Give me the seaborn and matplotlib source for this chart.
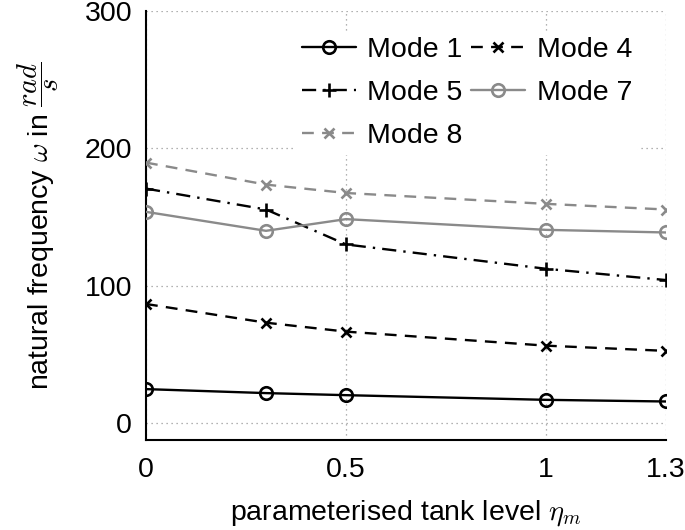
import numpy as np
import pandas as pd
import matplotlib
matplotlib.use("Agg")
import matplotlib.pyplot as plt
import seaborn as sns

# ---- data ----
eta = [0.0, 0.3, 0.5, 1.0, 1.3]
mode1 = [24.7, 21.8, 20.3, 16.9, 15.7]
mode4 = [86.6, 73.0, 66.5, 56.3, 52.5]
mode5 = [170.5, 155.3, 129.9, 112.2, 104.0]
mode7 = [153.6, 139.8, 148.3, 140.5, 138.6]
mode8 = [189.4, 173.4, 167.3, 159.4, 155.3]
labels = ["Mode 1", "Mode 4", "Mode 5", "Mode 7", "Mode 8"]
xticks = [0, 0.5, 1, 1.3]
xticklabels = ["0", "0.5", "1", "1.3"]
yticks = [0, 100, 200, 300]

sns.set_style("white")
plt.rcParams["font.family"] = ["Liberation Sans", "DejaVu Sans"]
plt.rcParams["mathtext.fontset"] = "cm"
plt.rcParams["text.color"] = "black"
plt.rcParams["axes.labelcolor"] = "black"

FS = 20.5

fig = plt.figure(figsize=(6.85, 5.3), dpi=100)
ax = fig.add_axes([146/685, 1-440/530, 520/685, (440-10.5)/530])

gray = "#8a8a8a"
styles = [
    dict(color="black", ls="-", marker="o", mfc="none", mec="black", ms=9),
    dict(color="black", ls=(0, (5, 3.5)), marker="x", mfc="none", mec="black", ms=7),
    dict(color="black", ls=(0, (6, 3, 1, 3)), marker="+", mfc="none", mec="black", ms=10),
    dict(color=gray, ls="-", marker="o", mfc="none", mec=gray, ms=9),
    dict(color=gray, ls=(0, (5, 3.5)), marker="x", mfc="none", mec=gray, ms=7),
]
series = [mode1, mode4, mode5, mode7, mode8]
for lab, vals, st in zip(labels, series, styles):
    df = pd.DataFrame({"eta": eta, "freq": vals})
    sns.lineplot(data=df, x="eta", y="freq", ax=ax, label=lab, lw=1.7,
                 markeredgewidth=1.9, zorder=3, **st)

ax.set_xlim(0, 1.3)
ax.set_ylim(-12.3, 300)
ax.set_xticks(xticks)
ax.set_xticklabels(xticklabels)
ax.set_yticks(yticks)
ax.grid(True, ls=(0, (1, 3)), color="#999999", lw=0.9, zorder=0)
ax.tick_params(axis="both", direction="in", length=5, width=0.8, color="#999999",
               labelsize=FS, labelcolor="black")
ax.tick_params(axis="x", pad=12)
ax.tick_params(axis="y", pad=10)
for s in ["top", "right"]:
    ax.spines[s].set_visible(False)
for s in ["left", "bottom"]:
    ax.spines[s].set_color("black")
    ax.spines[s].set_linewidth(1.5)

ax.set_xlabel(r"parameterised tank level $\eta_m$", fontsize=FS, labelpad=11, color="black")
ax.set_ylabel(r"natural frequency $\omega$ in $\dfrac{rad}{s}$", fontsize=FS, labelpad=17,
              color="black")

h, l = ax.get_legend_handles_labels()
if ax.get_legend() is not None:
    ax.get_legend().remove()
order = [0, 2, 4, 1, 3]
leg = fig.legend([h[i] for i in order], [l[i] for i in order], ncol=2, fontsize=FS,
                 loc="upper left", bbox_to_anchor=(296/685, 1-31/530), frameon=True,
                 handlelength=1.9, handletextpad=0.4, columnspacing=0.3,
                 labelspacing=0.6, numpoints=1, borderpad=0.2, borderaxespad=0)
leg.get_frame().set_facecolor("white")
leg.get_frame().set_edgecolor("none")
leg.get_frame().set_alpha(1)
for t in leg.get_texts():
    t.set_color("black")

fig.savefig("out.png", dpi=100)
